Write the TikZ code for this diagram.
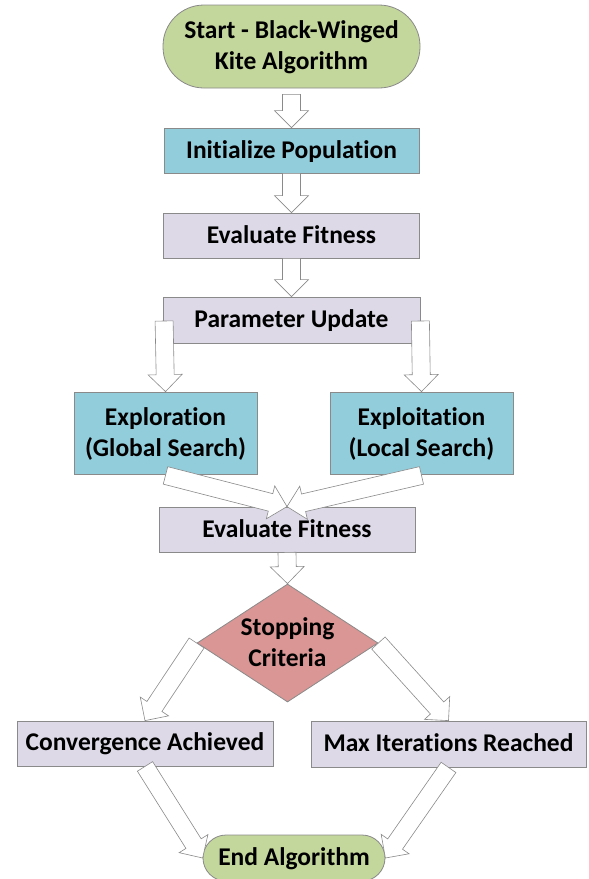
\documentclass[tikz,border=0pt]{standalone}
\usepackage{fontspec}
\setmainfont{Carlito}[Ligatures=NoCommon]
\usetikzlibrary{shapes.geometric,calc}
\definecolor{cgreen}{HTML}{C3D69B}
\definecolor{cblue}{HTML}{92CDDC}
\definecolor{clav}{HTML}{DDD9E7}
\definecolor{cred}{HTML}{D99694}
\definecolor{cedge}{HTML}{8A8A8A}
\newcommand{\ms}{\rule[-4pt]{0pt}{23pt}}
\tikzset{
  base/.style={draw=cedge, line width=0.8pt, font=\fontsize{25.5}{31}\selectfont\bfseries, align=center, inner sep=0pt},
  startend/.style={base, fill=cgreen},
  bluebox/.style={base, fill=cblue},
  lavbox/.style={base, fill=clav},
  critbox/.style={base, fill=cred, diamond, inner sep=-16pt},
  barrowline/.style={draw=cedge, line width=0.6pt, fill=white, line join=miter},
}
\newcommand{\barrow}[2]{%
  \coordinate (ba) at (#1);
  \coordinate (bb) at (#2);
  \coordinate (bh) at ($(bb)!17pt!(ba)$);
  \draw[barrowline] ($(ba)!9pt!90:(bb)$) -- ($(bh)!9pt!-90:(ba)$) -- ($(bh)!17pt!-90:(ba)$) -- (bb)
    -- ($(bh)!17pt!90:(ba)$) -- ($(bh)!9pt!90:(ba)$) -- ($(ba)!9pt!-90:(bb)$) -- cycle;}
\begin{document}
\begin{tikzpicture}[x=1pt,y=-1pt]
\useasboundingbox (0,0) rectangle (589,879);
\node[startend, minimum width=257pt, minimum height=83pt, rounded corners=41pt] (start) at (291.5,46.5) {\ms Start - Black-Winged\\\ms Kite Algorithm};
\node[bluebox, minimum width=255pt, minimum height=45pt] (init) at (291.5,150.5) {\ms Initialize Population};
\node[lavbox, minimum width=256pt, minimum height=45pt] (eval1) at (291.5,235.5) {\ms Evaluate Fitness};
\node[lavbox, minimum width=257pt, minimum height=46pt] (param) at (291.5,320) {\ms Parameter Update};
\node[bluebox, minimum width=183pt, minimum height=82pt] (explor) at (165.5,433) {\ms Exploration\\\ms (Global Search)};
\node[bluebox, minimum width=183pt, minimum height=82pt] (exploit) at (421.5,433) {\ms Exploitation\\\ms (Local Search)};
\node[lavbox, minimum width=256pt, minimum height=45pt] (eval2) at (287,529.5) {\ms Evaluate Fitness};
\node[critbox, minimum width=181pt, minimum height=118pt] (crit) at (287.5,643) {\ms Stopping\\\ms Criteria};
\node[lavbox, minimum width=256pt, minimum height=45pt] (conv) at (145,743.5) {\ms Convergence Achieved};
\node[lavbox, minimum width=275pt, minimum height=46pt] (maxit) at (448.5,744) {\ms Max Iterations Reached};
\node[startend, minimum width=182pt, minimum height=46pt, rounded corners=23pt] (endalg) at (294,858) {\ms End Algorithm};
\barrow{$(start.south)+(0,6)$}{init.north}
\barrow{init.south}{eval1.north}
\barrow{eval1.south}{param.north}
\barrow{$(param.west)+(1.5,1)$}{explor.north}
\barrow{$(param.east)+(0,1)$}{exploit.north}
\barrow{$(explor.south)+(0,1)$}{eval2.north}
\barrow{$(exploit.south)+(0,1)$}{eval2.north}
\barrow{eval2.south}{crit.north}
\barrow{crit.west}{conv.north}
\barrow{crit.east}{maxit.north}
\barrow{conv.south}{endalg.west}
\barrow{maxit.south}{endalg.east}
\end{tikzpicture}
\end{document}
